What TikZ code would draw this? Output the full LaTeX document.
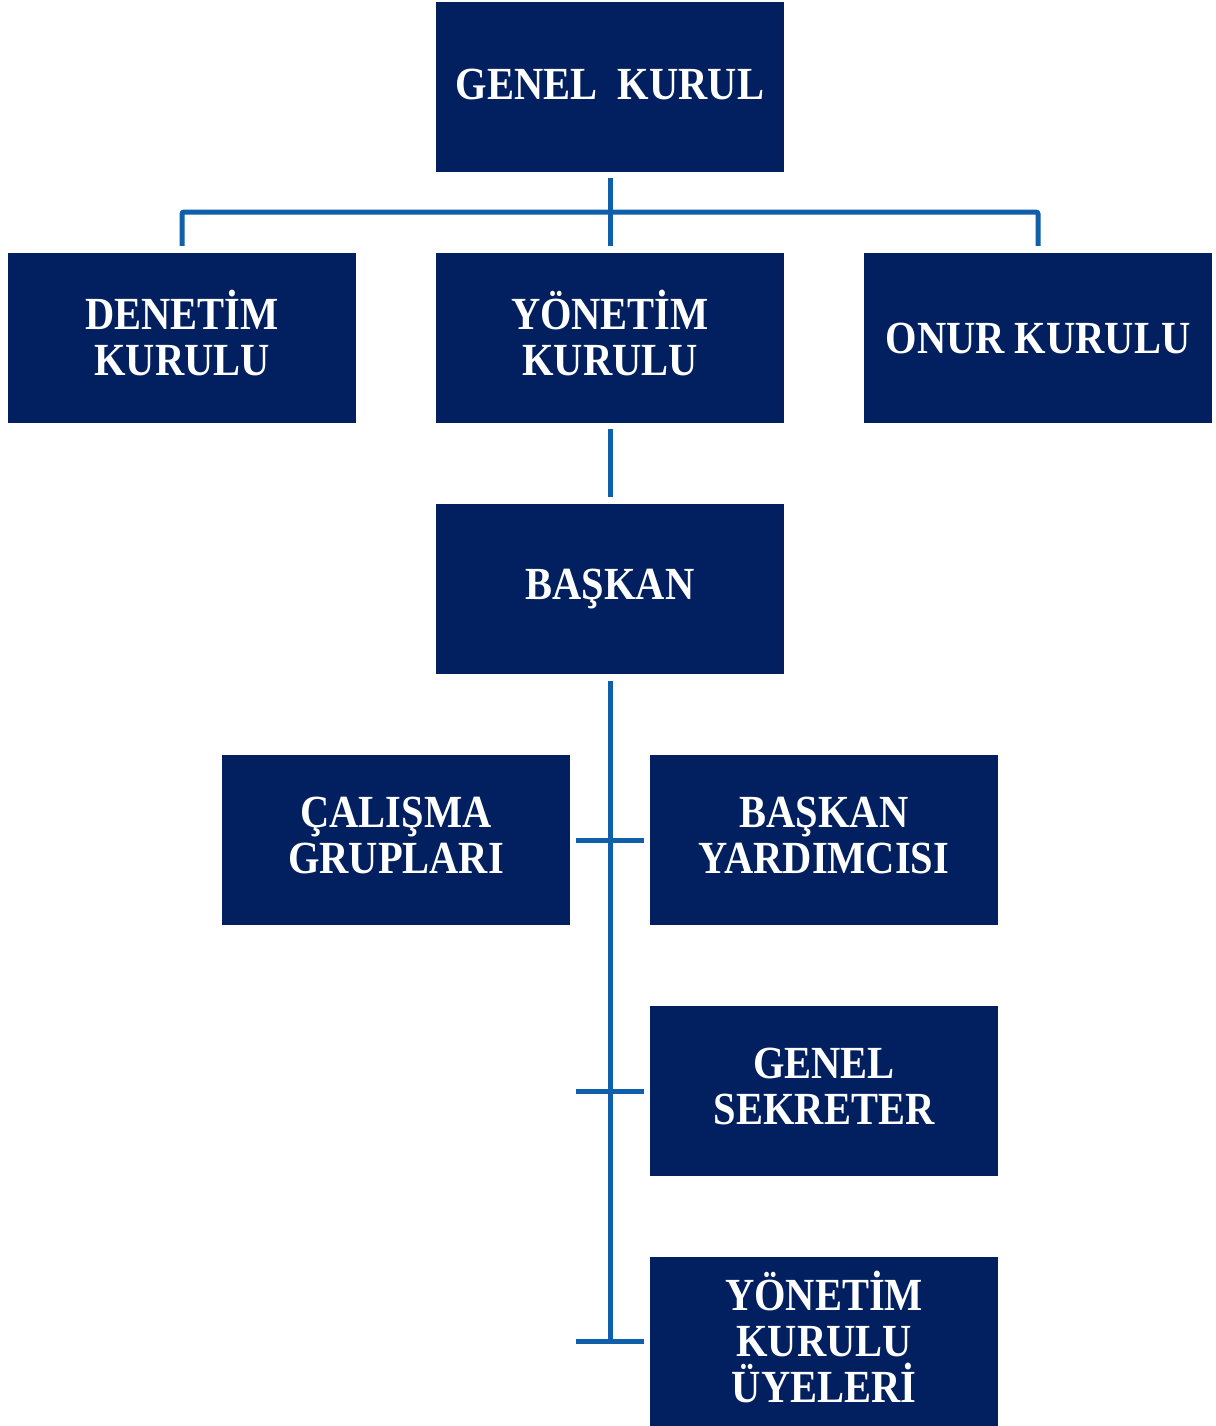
\documentclass[tikz,border=0pt]{standalone}
\usepackage{fontspec}
\newfontfamily\boxfont{Liberation Serif}[FakeStretch=0.88]
\definecolor{boxnavy}{HTML}{02205F}
\definecolor{linkblue}{HTML}{105FAA}
\begin{document}
\begin{tikzpicture}[x=1pt,y=1pt,
  orgbox/.style={fill=boxnavy, draw=none, minimum width=348pt, minimum height=170pt,
    inner sep=0pt, text=white, align=center,
    font=\boxfont\bfseries\fontsize{46}{46}\selectfont},
  multibox/.style={orgbox, text depth=10pt},
  conn/.style={draw=linkblue, line width=5pt}]
\useasboundingbox (0,0) rectangle (1215,-1426);
\fill[white] (0,0) rectangle (1215,-1426);
\node[orgbox, text depth=5pt] (gk) at (610,-87) {GENEL~ KURUL};
\node[multibox] (dk) at (182,-338) {DENETİM\\KURULU};
\node[multibox] (yk) at (610,-338) {YÖNETİM\\KURULU};
\node[orgbox] (ok) at (1038,-338) {ONUR KURULU};
\node[orgbox] (bs) at (610,-589) {BAŞKAN};
\node[multibox] (cg) at (396,-840) {ÇALIŞMA\\GRUPLARI};
\node[multibox] (by) at (824,-840) {BAŞKAN\\YARDIMCISI};
\node[multibox] (gs) at (824,-1091) {GENEL\\SEKRETER};
\node[multibox, minimum height=169pt] (yu) at (824,-1341.5) {YÖNETİM\\KURULU\\ÜYELERİ};
\coordinate (bar) at (610,-212);
\coordinate (spineend) at (610,-1342);
% top connectors
\draw[conn, shorten <=6pt, shorten >=7pt] (gk.south) -- (yk.north);
\draw[conn, rounded corners=2pt] ([yshift=7pt]dk.north) |- (bar) -| ([yshift=7pt]ok.north);
\draw[conn, shorten <=6pt, shorten >=7pt] (yk.south) -- (bs.north);
% spine
\draw[conn] ([yshift=-7pt]bs.south) -- (spineend);
\draw[conn, shorten <=6pt, shorten >=6pt] (cg.east) -- (by.west);
\draw[conn] ([xshift=-6pt]gs.west) -- ([xshift=-74pt]gs.west);
\draw[conn] ([xshift=-6pt]yu.west) -- ([xshift=-74pt]yu.west);
\end{tikzpicture}
\end{document}
